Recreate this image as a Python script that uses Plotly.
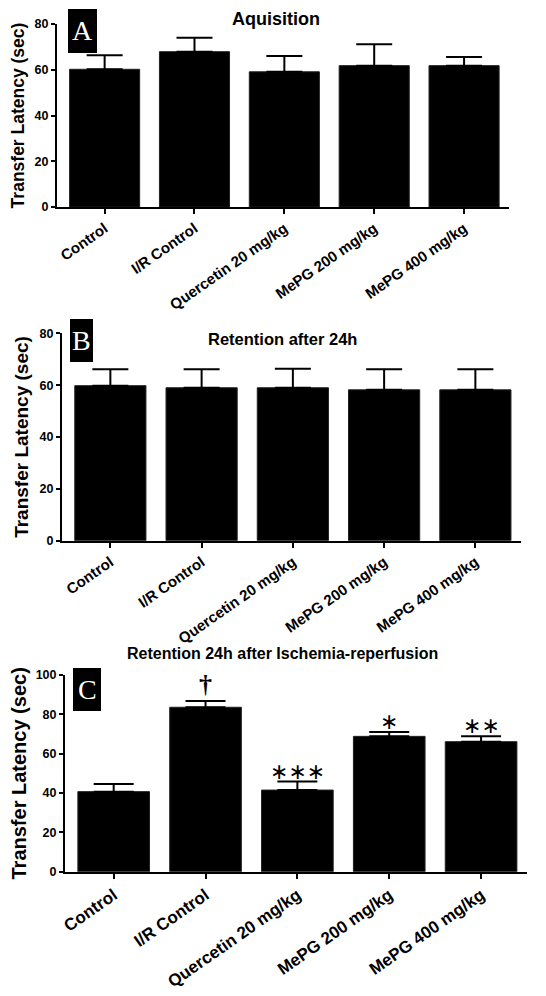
import plotly.graph_objects as go

# compensation for the page offset of the plot div
XOFF, YOFF = 4, 8
W, H = 546 - XOFF, 996 - YOFF

categories = ["Control", "I/R Control", "Quercetin 20 mg/kg", "MePG 200 mg/kg", "MePG 400 mg/kg"]

acq_mean = [60.2, 67.9, 59.1, 61.8, 61.8]
acq_sem = [6.1, 6.1, 6.9, 9.3, 3.8]

ret_mean = [59.8, 59.0, 59.0, 58.2, 58.2]
ret_sem = [6.3, 7.1, 7.3, 7.9, 7.9]

isch_mean = [40.7, 83.6, 41.5, 68.8, 66.1]
isch_sem = [3.9, 3.2, 4.3, 2.2, 2.7]
isch_marks = ["", "†", "∗∗∗", "∗", "∗∗"]

titles = ["Aquisition", "Retention after 24h", "Retention 24h after Ischemia-reperfusion"]
panel_letters = ["A", "B", "C"]
y_ticks_ab = [0, 20, 40, 60, 80]
y_ticks_c = [0, 20, 40, 60, 80, 100]

FONT = "Liberation Sans, Arial, Helvetica, sans-serif"
SERIF = "Liberation Serif, Times New Roman, serif"

def px_x(x):
    return (x - XOFF) / W

def px_y(y):
    return 1 - (y - YOFF) / H

panels = [
    dict(x0=53, x1=505, yt=24, yb=207, ymax=80, ticks=y_ticks_ab, xfont=15, ytitle=17.5, cap=18,
         title_xy=(272, 19), title_size=18, box=(64, 93, 9, 53)),
    dict(x0=58, x1=517, yt=333.3, yb=540.7, ymax=80, ticks=y_ticks_ab, xfont=15, ytitle=19, cap=18,
         title_xy=(278, 339), title_size=16.5, box=(66, 89, 319, 362)),
    dict(x0=61, x1=523, yt=675, yb=871.7, ymax=100, ticks=y_ticks_c, xfont=17, ytitle=20, cap=20,
         title_xy=(278, 653), title_size=16, box=(69, 97, 668, 711)),
]
data_sets = [(acq_mean, acq_sem), (ret_mean, ret_sem), (isch_mean, isch_sem)]

fig = go.Figure()
layout = dict(width=W, height=H, margin=dict(l=0, r=0, t=0, b=0, autoexpand=False),
              plot_bgcolor="white", paper_bgcolor="white", showlegend=False,
              annotations=[], shapes=[])

for i, (p, (m, s)) in enumerate(zip(panels, data_sets)):
    n = "" if i == 0 else str(i + 1)
    xa, ya = "x" + n, "y" + n
    fig.add_trace(go.Bar(
        x=categories, y=m, xaxis=xa, yaxis=ya,
        marker=dict(color="black", line=dict(color="#222", width=1)),
        width=0.78,
        error_y=dict(type="data", array=s, arrayminus=[0] * len(s), symmetric=False,
                     color="black", thickness=2, width=p["cap"]),
    ))
    axis_common = dict(showline=True, linecolor="black", linewidth=2, ticks="outside",
                       tickcolor="black", tickwidth=2, showgrid=False, zeroline=False,
                       automargin=False)
    layout["xaxis" + n] = dict(
        domain=[px_x(p["x0"]), px_x(p["x1"])], anchor=ya, range=[-0.53, 4.5],
        tickangle=-35, ticklen=5,
        tickfont=dict(family=FONT, size=p["xfont"], color="black", weight="bold"),
        **axis_common)
    layout["yaxis" + n] = dict(
        domain=[px_y(p["yb"]), px_y(p["yt"])], anchor=xa, range=[0, p["ymax"]],
        tickvals=p["ticks"], ticklen=4,
        tickfont=dict(family=FONT, size=12.5, color="black", weight="bold"),
        title=dict(text="Transfer Latency (sec)", standoff=6,
                   font=dict(family=FONT, size=p["ytitle"], color="black", weight="bold")),
        **axis_common)
    tx, ty = p["title_xy"]
    layout["annotations"].append(dict(
        text=titles[i], x=px_x(tx), y=px_y(ty), xref="paper", yref="paper",
        xanchor="center", yanchor="middle", showarrow=False,
        font=dict(family=FONT, size=p["title_size"], color="black", weight="bold")))
    bx0, bx1, by0, by1 = p["box"]
    layout["shapes"].append(dict(type="rect", xref="paper", yref="paper",
                                 x0=px_x(bx0), x1=px_x(bx1), y0=px_y(by1), y1=px_y(by0),
                                 fillcolor="black", line=dict(width=0), layer="above"))
    layout["annotations"].append(dict(
        text=panel_letters[i], x=px_x((bx0 + bx1) / 2), y=px_y((by0 + by1) / 2),
        xref="paper", yref="paper", xanchor="center", yanchor="middle", showarrow=False,
        font=dict(family=SERIF, size=28, color="white")))

for cat, mval, sval, mark in zip(categories, isch_mean, isch_sem, isch_marks):
    if not mark:
        continue
    is_dag = mark == "†"
    layout["annotations"].append(dict(
        text=mark, x=cat, y=mval + sval, xref="x3", yref="y3",
        xanchor="center", yanchor="bottom", showarrow=False,
        yshift=0 if is_dag else -4,
        font=dict(family=SERIF if is_dag else "DejaVu Sans", size=26 if is_dag else 22,
                  color="black", weight="bold" if is_dag else "normal")))

fig.update_layout(**layout)
fig.write_html("out.html")
